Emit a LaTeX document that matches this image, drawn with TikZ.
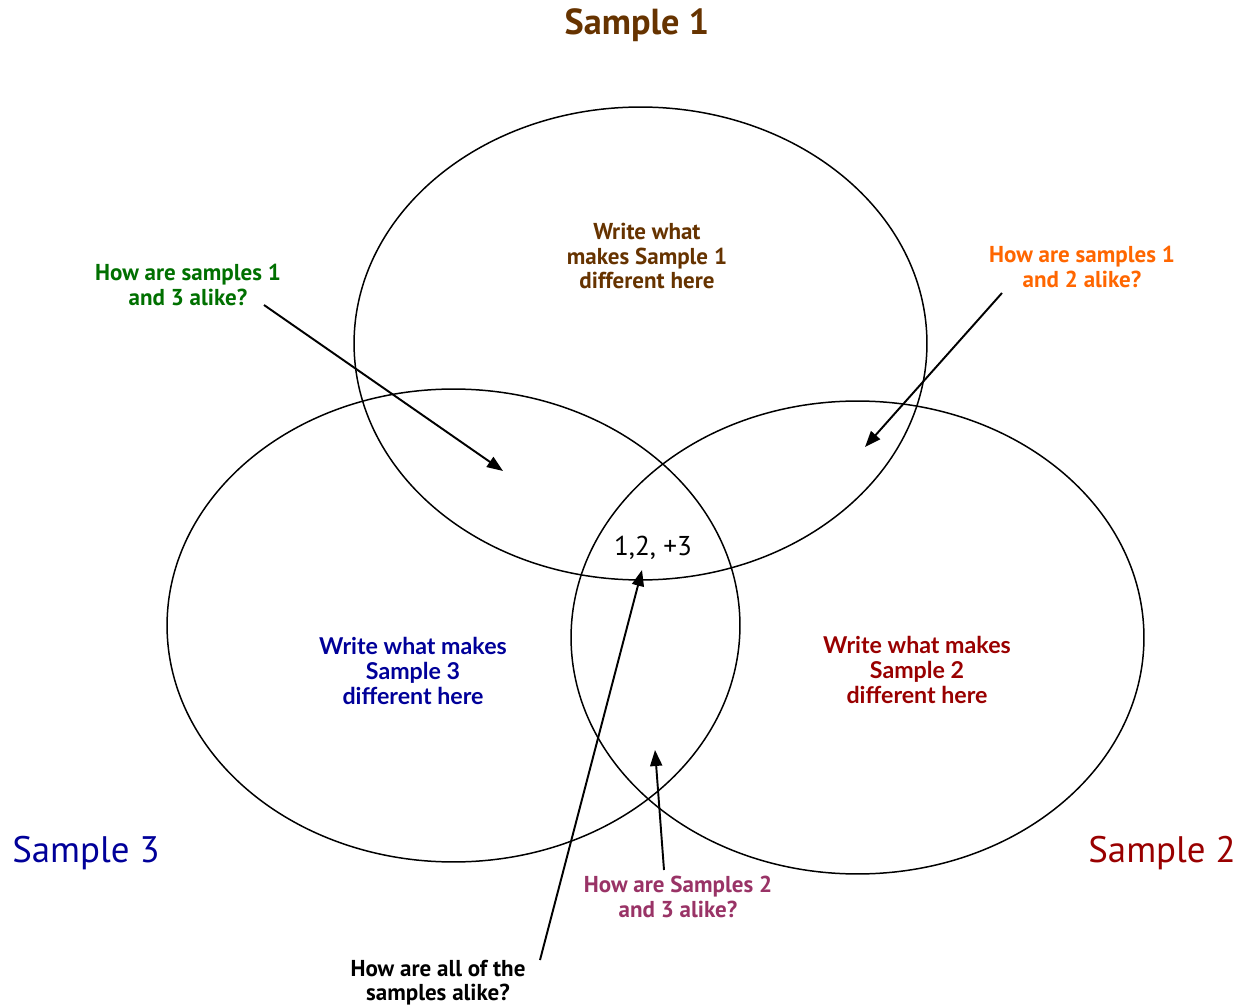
\documentclass[tikz,border=0pt]{standalone}
\usepackage{fontspec}
\setmainfont{PT Sans}
\newfontfamily\gillfont{Lato}
\usetikzlibrary{arrows.meta}
\definecolor{sbrown}{RGB}{102,51,0}
\definecolor{sgreen}{RGB}{0,112,0}
\definecolor{sorange}{RGB}{255,102,0}
\definecolor{sblue}{RGB}{0,0,153}
\definecolor{sred}{RGB}{153,0,0}
\definecolor{splum}{RGB}{153,51,102}

\begin{document}
\begin{tikzpicture}[x=0.02cm,y=-0.02cm,>={Triangle[length=0.32cm,width=0.24cm]},
  ring/.style={draw,line width=0.85pt},
  title/.style={font=\fontsize{21}{24}\selectfont},
  note/.style={font=\fontsize{13.1}{13.8}\selectfont\bfseries,align=center},
  inner/.style={font=\gillfont\fontsize{13.2}{14}\selectfont\bfseries,align=center},
  arr/.style={->,line width=1.1pt}]
\useasboundingbox (0,0) rectangle (1240,1006);
\foreach \cx/\cy in {640.5/343.5,453.5/625.5,857.5/637.5}
  \draw[ring] (\cx,\cy) ellipse [x radius=5.73cm,y radius=4.73cm];

\node[title,sbrown,font=\fontsize{20.6}{24}\selectfont\bfseries] (s1) at (637,25) {Sample 1};
\node[title,sblue] (s3) at (86,853) {Sample 3};
\node[title,sred] (s2) at (1162,853) {Sample 2};

\node[note,sbrown] (d1) at (647,256) {Write what\\makes Sample 1\\different here};
\node[inner,sblue] (d3) at (413,671) {Write what makes\\Sample 3\\different here};
\node[inner,sred] (d2) at (917,670) {Write what makes\\Sample 2\\different here};
\node[font=\fontsize{15.5}{17}\selectfont] (c123) at (653,548) {1,2, +3};

\node[note,sgreen] (c13) at (188,285) {How are samples 1\\and 3 alike?};
\node[note,sorange] (c12) at (1082,267) {How are samples 1\\and 2 alike?};
\node[note,splum] (c23) at (678,897) {How are Samples 2\\and 3 alike?};
\node[note] (all) at (438,983) {How are all of the\\samples alike?};

\coordinate (a13) at (264,305);
\coordinate (t13) at (503,471);
\coordinate (a12) at (1002,293);
\coordinate (t12) at (865,447);
\coordinate (a23) at (664,870);
\coordinate (t23) at (655,750);
\coordinate (a123) at (540,960);
\coordinate (t123) at (642,570);
\foreach \a/\t in {a13/t13,a12/t12,a23/t23,a123/t123}
  \draw[arr] (\a) -- (\t);
\end{tikzpicture}
\end{document}
